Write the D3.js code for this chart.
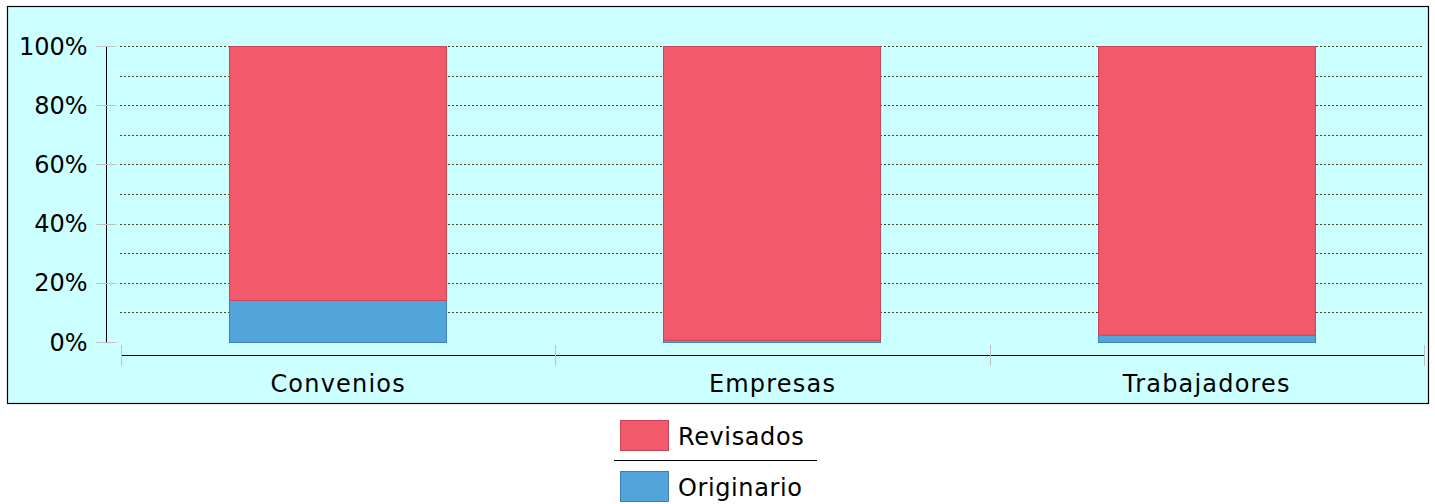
<!DOCTYPE html>
<html>
<head>
<meta charset="utf-8">
<script src="https://cdn.jsdelivr.net/npm/d3@7"></script>
<style>
  html, body { margin: 0; padding: 0; background: #ffffff; }
  svg { display: block; font-family: "DejaVu Sans", sans-serif; }
</style>
</head>
<body>
<svg id="chart" width="1435" height="504"></svg>
<script>
// Categories and stacked shares (percent of each total)
const categories = ["Convenios", "Empresas", "Trabajadores"];
const originario = [14.2, 0.7, 2.5];
const revisados = [85.8, 99.3, 97.5];
const yTicks = [0, 20, 40, 60, 80, 100];
const seriesNames = ["Revisados", "Originario"];
const seriesColors = ["#F25A6B", "#52A5DA"];
const seriesStrokes = ["#C94657", "#3D82B3"];

const svg = d3.select("#chart");

// Panel background
svg.append("rect")
  .attr("x", 7.5).attr("y", 6.5)
  .attr("width", 1421).attr("height", 397)
  .attr("fill", "#CCFFFF")
  .attr("stroke", "#000").attr("stroke-width", 1.2);

const plot = { left: 121, right: 1424, top: 46, bottom: 342 };

const x = d3.scaleBand()
  .domain(categories)
  .range([plot.left, plot.right])
  .paddingInner(0.5).paddingOuter(0.25);

const y = d3.scaleLinear().domain([0, 100]).range([plot.bottom, plot.top]);

// Dotted gridlines every 10%
const gridVals = d3.range(0, 101, 10);
svg.append("g").selectAll("line")
  .data(gridVals.filter(v => v > 0))
  .join("line")
  .attr("x1", 120).attr("x2", 1422)
  .attr("y1", d => Math.round(y(d)) + 0.5)
  .attr("y2", d => Math.round(y(d)) + 0.5)
  .attr("stroke", "#4a4a1a")
  .attr("stroke-width", 1)
  .attr("stroke-dasharray", "2,2");

// Y axis
const yAxis = svg.append("g").attr("transform", "translate(106.5,0)");
yAxis.append("line")
  .attr("x1", 0).attr("x2", 0)
  .attr("y1", plot.top).attr("y2", plot.bottom)
  .attr("stroke", "#000");
yAxis.selectAll("line.tick")
  .data(yTicks).join("line").attr("class", "tick")
  .attr("x1", -10).attr("x2", 10)
  .attr("y1", d => Math.round(y(d)) + 0.5)
  .attr("y2", d => Math.round(y(d)) + 0.5)
  .attr("stroke", "#c0c0c0");
yAxis.selectAll("text")
  .data(yTicks).join("text")
  .attr("x", -19)
  .attr("y", d => y(d))
  .attr("dy", "0.36em")
  .attr("text-anchor", "end")
  .attr("font-size", 24)
  .attr("fill", "#000")
  .text(d => d + "%");

// X axis
const xAxisY = 355.5;
svg.append("line")
  .attr("x1", plot.left).attr("x2", plot.right)
  .attr("y1", xAxisY).attr("y2", xAxisY)
  .attr("stroke", "#000");
const xTickPos = d3.range(categories.length + 1).map(i => plot.left + i * (plot.right - plot.left) / categories.length);
svg.append("g").selectAll("line")
  .data(xTickPos).join("line")
  .attr("x1", d => Math.round(d) + 0.5).attr("x2", d => Math.round(d) + 0.5)
  .attr("y1", 345).attr("y2", 366)
  .attr("stroke", "#c0c0c0");
svg.append("g").selectAll("text")
  .data(categories).join("text")
  .attr("x", d => x(d) + x.bandwidth() / 2)
  .attr("y", 392)
  .attr("text-anchor", "middle")
  .attr("font-size", 24)
  .attr("letter-spacing", 1.2)
  .attr("fill", "#000")
  .text(d => d);

// Stacked bars
const rows = categories.map((c, i) => ({ cat: c, Originario: originario[i], Revisados: revisados[i] }));
const stack = d3.stack().keys(["Originario", "Revisados"])(rows);
const colorOf = { Revisados: seriesColors[0], Originario: seriesColors[1] };
const strokeOf = { Revisados: seriesStrokes[0], Originario: seriesStrokes[1] };

svg.append("g").selectAll("g")
  .data(stack).join("g")
  .attr("fill", s => colorOf[s.key])
  .attr("stroke", s => strokeOf[s.key])
  .selectAll("rect")
  .data(s => s).join("rect")
  .attr("x", d => Math.floor(x(d.data.cat)) + 0.5)
  .attr("y", d => y(d[1]) + 0.5)
  .attr("width", Math.round(x.bandwidth()))
  .attr("height", d => Math.max(0, y(d[0]) - y(d[1])));

// Legend
const legend = svg.append("g");
const legendRows = [{ y: 420 }, { y: 471 }];
seriesNames.forEach((name, i) => {
  legend.append("rect")
    .attr("x", 620.5).attr("y", legendRows[i].y + 0.5)
    .attr("width", 48).attr("height", 30)
    .attr("fill", seriesColors[i])
    .attr("stroke", seriesStrokes[i]);
  legend.append("text")
    .attr("x", 678).attr("y", legendRows[i].y + 25)
    .attr("font-size", 24)
    .attr("letter-spacing", 0.6)
    .attr("fill", "#000")
    .text(name);
});
legend.append("line")
  .attr("x1", 614).attr("x2", 817)
  .attr("y1", 460.5).attr("y2", 460.5)
  .attr("stroke", "#000");
</script>
</body>
</html>
